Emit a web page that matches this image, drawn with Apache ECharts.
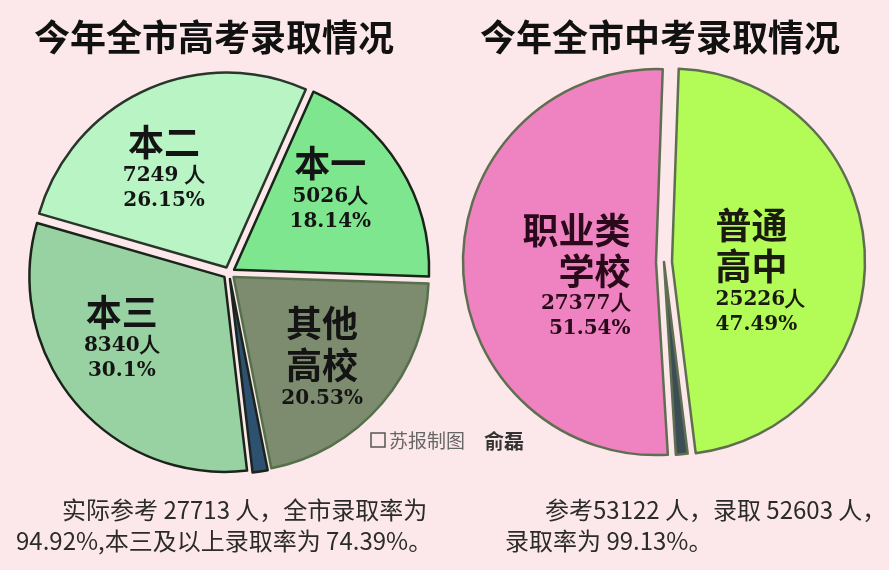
<!DOCTYPE html>
<html>
<head>
<meta charset="utf-8">
<script src="https://cdn.jsdelivr.net/npm/echarts@6/dist/echarts.min.js"></script>
<style>
html,body{margin:0;padding:0;background:#fce8ea;}
#main{width:889px;height:570px;}
</style>
</head>
<body>
<div id="main"></div>
<script>
// ---- Data: 高考 (left pie) ----
const gkNames = ['本一', '其他高校', '未录取', '本三', '本二'];
const gkValues = [18.14, 20.53, 1.2, 30.1, 26.15];
const gkTitleLines = [['本一'], ['其他', '高校'], [], ['本三'], ['本二']];
const gkCounts = ['5026人', '', '', '8340人', '7249 人'];
const gkPercents = ['18.14%', '20.53%', '', '30.1%', '26.15%'];

// ---- Data: 中考 (right pie) ----
const zkNames = ['普通高中', '未录取', '职业类学校'];
const zkValues = [47.49, 0.98, 51.54];
const zkTitleLines = [['普通', '高中'], [], ['职业类', '学校']];
const zkCounts = ['25226人', '', '27377人'];
const zkPercents = ['47.49%', '', '51.54%'];

// ---- Texts ----
const titleLeft = '今年全市高考录取情况';
const titleRight = '今年全市中考录取情况';
const noteLeft = ['实际参考 27713 人，全市录取率为', '94.92%,本三及以上录取率为 74.39%。'];
const noteRight = ['参考53122 人，录取 52603 人，', '录取率为 99.13%。'];

// ---- Styles ----
const gkColors = ['#7ee68e', '#7d8c6f', '#2d5170', '#98d2a2', '#b8f4c4'];
const gkBorders = ['#1b241b', '#56704c', '#1b241b', '#1b241b', '#2a362a'];
const gkPadding = [[0, 0, 56, 22], [30, 0, 0, 24], [0, 0, 0, 0], [0, 52, 10, 0], [0, 40, 18, 0]];
const zkColors = ['#b3fb56', '#3d4d55', '#ef82c0'];
const zkExplode = [true, false, true];
const zkPadding = [[28, 22, 0, 0], [0, 0, 0, 0], [24, 0, 0, 40]];

const CJK = '"Noto Sans CJK SC", sans-serif';
const NUM = '"DejaVu Serif", serif';

function labelText(lines, count, pct, side) {
  const parts = [];
  lines.forEach(l => parts.push('{big' + side + '|' + l + '}'));
  if (count) parts.push('{num' + side + '|' + count + '}');
  if (pct) parts.push('{num' + side + '|' + pct + '}');
  return parts.join('\n');
}

const richStyles = {
  big: { fontFamily: CJK, fontSize: 36, fontWeight: 'bold', color: '#141414', lineHeight: 42 },
  num: { fontFamily: NUM, fontSize: 20, fontWeight: 'bold', color: '#141414', lineHeight: 25 },
  bigL: { fontFamily: CJK, fontSize: 36, fontWeight: 'bold', color: '#1a1a10', lineHeight: 41, align: 'left' },
  numL: { fontFamily: NUM, fontSize: 20, fontWeight: 'bold', color: '#1a1a10', lineHeight: 25, align: 'left' },
  bigR: { fontFamily: CJK, fontSize: 36, fontWeight: 'bold', color: '#2a0a1a', lineHeight: 41, align: 'right' },
  numR: { fontFamily: NUM, fontSize: 20, fontWeight: 'bold', color: '#2a0a1a', lineHeight: 25, align: 'right' }
};

const gkData = gkNames.map((n, i) => ({
  name: n,
  value: gkValues[i],
  selected: true,
  itemStyle: { color: gkColors[i], borderColor: gkBorders[i], borderWidth: 2.5 },
  label: {
    show: !!gkPercents[i],
    position: 'inside',
    padding: gkPadding[i],
    formatter: labelText(gkTitleLines[i], gkCounts[i], gkPercents[i], ''),
    rich: richStyles
  }
}));

const zkData = zkNames.map((n, i) => ({
  name: n,
  value: zkValues[i],
  selected: zkExplode[i],
  itemStyle: { color: zkColors[i], borderColor: '#5f6e50', borderWidth: 2.5 },
  label: {
    show: !!zkPercents[i],
    position: 'inside',
    padding: zkPadding[i],
    formatter: labelText(zkTitleLines[i], zkCounts[i], zkPercents[i], i === 0 ? 'L' : 'R'),
    rich: richStyles
  }
}));

const chart = echarts.init(document.getElementById('main'), null, { renderer: 'canvas' });

const noteStyle = { fontFamily: CJK, fontSize: 24, fill: '#2b2b2b' };

chart.setOption({
  backgroundColor: '#fce8ea',
  animation: false,
  series: [
    {
      type: 'pie',
      center: [229, 273],
      radius: 195,
      startAngle: 66,
      clockwise: true,
      selectedMode: 'multiple',
      selectedOffset: 6,
      silent: true,
      emphasis: { disabled: true },
      labelLine: { show: false },
      data: gkData
    },
    {
      type: 'pie',
      center: [664, 262],
      radius: 193,
      startAngle: 88,
      clockwise: true,
      selectedMode: 'multiple',
      selectedOffset: 8,
      silent: true,
      emphasis: { disabled: true },
      labelLine: { show: false },
      data: zkData
    }
  ],
  graphic: [
    { type: 'text', x: 214, y: 37, style: { text: titleLeft, fontFamily: CJK, fontSize: 36, fontWeight: 'bold', fill: '#111', align: 'center', verticalAlign: 'middle' } },
    { type: 'text', x: 660, y: 37, style: { text: titleRight, fontFamily: CJK, fontSize: 36, fontWeight: 'bold', fill: '#111', align: 'center', verticalAlign: 'middle' } },
    { type: 'text', x: 62, y: 510, style: Object.assign({ text: noteLeft[0], verticalAlign: 'middle' }, noteStyle) },
    { type: 'text', x: 16, y: 541, style: Object.assign({ text: noteLeft[1], verticalAlign: 'middle' }, noteStyle) },
    { type: 'text', x: 545, y: 510, style: Object.assign({ text: noteRight[0], verticalAlign: 'middle' }, noteStyle) },
    { type: 'text', x: 505, y: 541, style: Object.assign({ text: noteRight[1], verticalAlign: 'middle' }, noteStyle) },
    { type: 'rect', shape: { x: 371, y: 433, width: 14, height: 14 }, style: { fill: 'none', stroke: '#555', lineWidth: 1.5 } },
    { type: 'text', x: 389, y: 441, style: { text: '苏报制图', fontFamily: CJK, fontSize: 19, fill: '#666', verticalAlign: 'middle' } },
    { type: 'text', x: 484, y: 441, style: { text: '俞磊', fontFamily: CJK, fontSize: 20, fontWeight: 'bold', fill: '#333', verticalAlign: 'middle' } }
  ]
});
</script>
</body>
</html>
